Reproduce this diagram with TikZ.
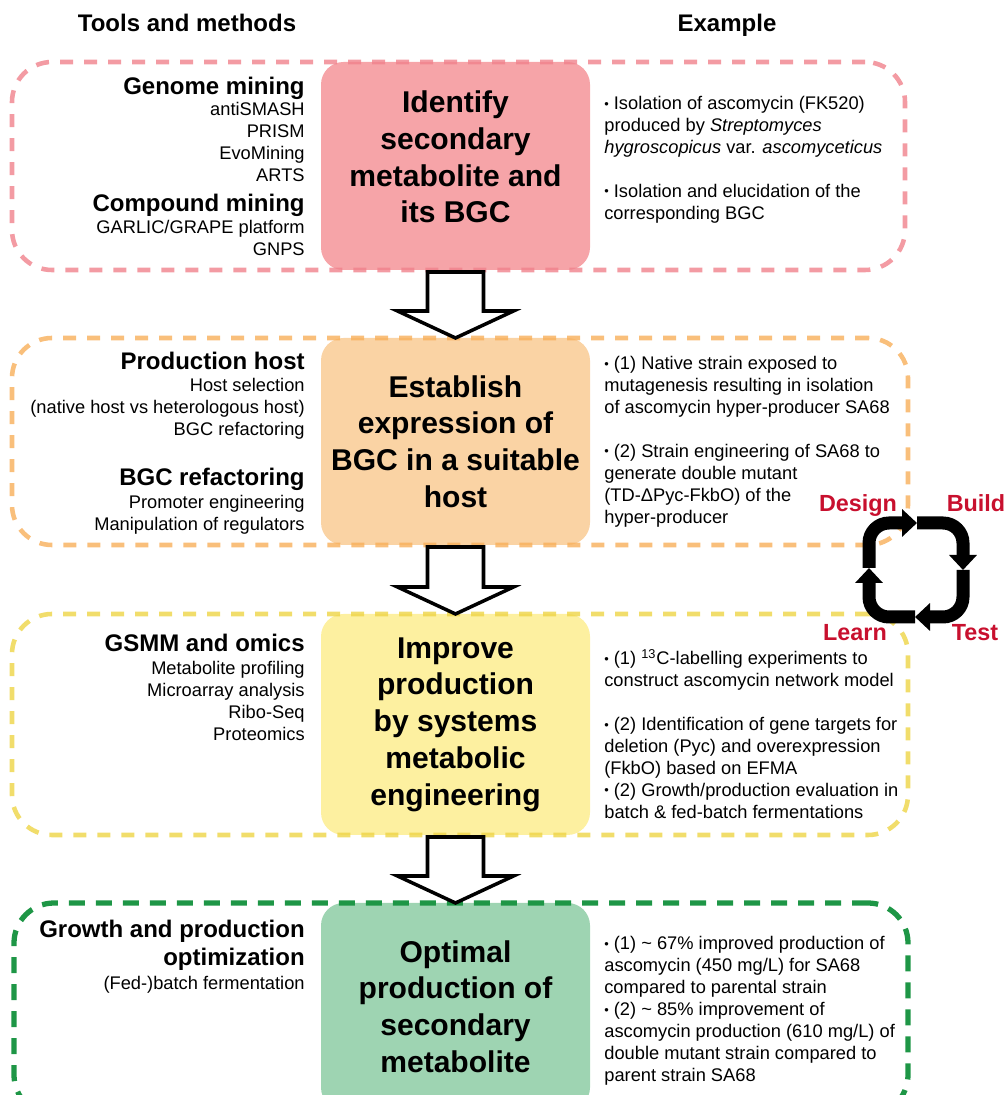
\documentclass[tikz,border=0pt]{standalone}
\usepackage{amsmath}
\usepackage{fontspec}
\setmainfont{Liberation Sans}
\usepackage{tikz}
\usetikzlibrary{calc,arrows.meta}

\definecolor{pinkfill}{RGB}{246,164,168}
\definecolor{pinkline}{RGB}{240,130,140}
\definecolor{orangefill}{RGB}{250,211,164}
\definecolor{orangeline}{RGB}{248,175,90}
\definecolor{yellowfill}{RGB}{253,240,160}
\definecolor{yellowline}{RGB}{238,212,70}
\definecolor{greenfill}{RGB}{158,212,178}
\definecolor{greenline}{RGB}{30,150,70}
\definecolor{dbtlred}{RGB}{200,16,46}

\newcommand{\bulletdot}{\raisebox{0.08em}{\scalebox{0.7}{\textbullet}}}

\begin{document}
\begin{tikzpicture}[
    headtext/.style={font=\fontsize{13.66}{15.9}\selectfont\bfseries, inner sep=0pt},
    itemtext/.style={font=\fontsize{10.4}{12.5}\selectfont, inner sep=0pt},
    stagebox/.style={rounded corners=0.45cm, minimum width=5.38cm, align=center, inner sep=0pt, outer sep=0pt, font=\fontsize{17.1}{20.9}\selectfont\bfseries},
    stageframe/.style={rounded corners=0.8cm, line width=2.6pt, dash pattern=on 0.26cm off 0.22cm, draw opacity=0.8, inner sep=0pt, outer sep=0pt},
    blockarrow/.style={draw=black, fill=white, line width=2pt, line join=miter},
    dbtlarrow/.style={line width=0.26cm, rounded corners=0.4cm, -{Triangle[width=0.54cm,length=0.3cm]}},
    dbtltext/.style={font=\fontsize{13.3}{16}\selectfont\bfseries, text=dbtlred, anchor=base, inner sep=0pt}
]

\useasboundingbox (0,0) rectangle (20.1,21.9);
\clip (0,0) rectangle (20.1,21.9);

%% column titles
\node[headtext, anchor=base] (tools) at (3.74,21.27) {Tools and methods};
\node[headtext, anchor=base] (example) at (14.54,21.27) {Example};

%% stage boxes
\node[stagebox, fill=pinkfill, minimum height=4.16cm] (identify) at (9.11,18.58) {\begin{tabular}{@{}c@{}}Identify\\secondary\\metabolite and\\its BGC\\[0.22cm]\end{tabular}};
\node[stagebox, fill=orangefill, minimum height=4.14cm] (establish) at (9.11,13.07) {Establish\\expression of\\BGC in a suitable\\host};
\node[stagebox, fill=yellowfill, minimum height=4.42cm] (improve) at (9.11,7.41) {Improve\\production\\by systems\\metabolic\\engineering};
\node[stagebox, fill=greenfill, minimum height=4.14cm] (optimal) at (9.11,1.77) {Optimal\\production of\\secondary\\metabolite};

%% dashed frames
\node[stageframe, draw=pinkline, minimum width=17.86cm, minimum height=4.16cm] (frame1) at (9.17,18.58) {};
\node[stageframe, draw=orangeline, minimum width=17.92cm, minimum height=4.14cm] (frame2) at (9.20,13.07) {};
\node[stageframe, draw=yellowline, minimum width=17.92cm, minimum height=4.42cm] (frame3) at (9.20,7.41) {};
\node[stageframe, draw=greenline, draw opacity=1, line width=3pt, dash pattern=on 0.32cm off 0.22cm, minimum width=17.88cm, minimum height=4.24cm] (frame4) at (9.22,1.72) {};

%% tools and methods
\node[headtext, anchor=base east] (genome) at (6.1,20.01) {Genome mining};
\node[itemtext, anchor=north east, align=right] (genomelist) at (6.1,19.86) {antiSMASH\\PRISM\\EvoMining\\ARTS};
\node[headtext, anchor=base east] (compound) at (6.1,17.67) {Compound mining};
\node[itemtext, anchor=north east, align=right] (compoundlist) at (6.1,17.50) {GARLIC/GRAPE platform\\GNPS};

\node[headtext, anchor=base east] (host) at (6.1,14.51) {Production host};
\node[itemtext, anchor=north east, align=right] (hostlist) at (6.1,14.34) {Host selection\\(native host vs heterologous host)\\BGC refactoring};
\node[headtext, anchor=base east] (refactor) at (6.1,12.19) {BGC refactoring};
\node[itemtext, anchor=north east, align=right] (refactorlist) at (6.1,12.0) {Promoter engineering\\Manipulation of regulators};

\node[headtext, anchor=base east] (omics) at (6.1,8.87) {GSMM and omics};
\node[itemtext, anchor=north east, align=right] (omicslist) at (6.1,8.68) {Metabolite profiling\\Microarray analysis\\Ribo-Seq\\Proteomics};

\node[headtext, anchor=north east, align=right] (growth) at (6.1,3.5) {Growth and production\\optimization};
\node[itemtext, anchor=north east, align=right] (growthlist) at (6.1,2.38) {(Fed-)batch fermentation};

%% examples
\node[itemtext, anchor=north west, align=left] (ex1) at (12.08,19.98) {\bulletdot\ Isolation of ascomycin (FK520)\\produced by \textit{Streptomyces}\\\textit{hygroscopicus} var. \textit{ascomyceticus}\\[12.5pt]\bulletdot\ Isolation and elucidation of the\\corresponding BGC};
\node[itemtext, anchor=north west, align=left] (ex2) at (12.08,14.78) {\bulletdot\ (1) Native strain exposed to\\mutagenesis resulting in isolation\\of ascomycin hyper-producer SA68\\[12.5pt]\bulletdot\ (2) Strain engineering of SA68 to\\generate double mutant\\(TD-ΔPyc-FkbO) of the\\hyper-producer};
\node[itemtext, anchor=north west, align=left] (ex3) at (12.08,8.88) {\bulletdot\ (1) \smash{\textsuperscript{13}}C-labelling experiments to\\construct ascomycin network model\\[12.5pt]\bulletdot\ (2) Identification of gene targets for\\deletion (Pyc) and overexpression\\(FkbO) based on EFMA\\\bulletdot\ (2) Growth/production evaluation in\\batch \& fed-batch fermentations};
\node[itemtext, anchor=north west, align=left] (ex4) at (12.08,3.18) {\bulletdot\ (1) \textasciitilde{} 67\% improved production of\\ascomycin (450 mg/L) for SA68\\compared to parental strain\\\bulletdot\ (2) \textasciitilde{} 85\% improvement of\\ascomycin production (610 mg/L) of\\double mutant strain compared to\\parent strain SA68};

%% block arrows
\draw[blockarrow] let \p1=(identify.south), \p2=(establish.north) in (\x1-0.56cm,\y1-0.04cm) -- (\x1+0.56cm,\y1-0.04cm) -- (\x1+0.56cm,\y2+0.54cm) -- (\x1+1.16cm,\y2+0.54cm) -- (\x2,\y2) -- (\x1-1.16cm,\y2+0.54cm) -- (\x1-0.56cm,\y2+0.54cm) -- cycle;   %% 1-2
\draw[blockarrow] let \p1=(establish.south), \p2=(improve.north) in (\x1-0.56cm,\y1-0.04cm) -- (\x1+0.56cm,\y1-0.04cm) -- (\x1+0.56cm,\y2+0.54cm) -- (\x1+1.16cm,\y2+0.54cm) -- (\x2,\y2) -- (\x1-1.16cm,\y2+0.54cm) -- (\x1-0.56cm,\y2+0.54cm) -- cycle;   %% 2-3
\draw[blockarrow] let \p1=(improve.south), \p2=(optimal.north) in (\x1-0.56cm,\y1-0.04cm) -- (\x1+0.56cm,\y1-0.04cm) -- (\x1+0.56cm,\y2+0.54cm) -- (\x1+1.16cm,\y2+0.54cm) -- (\x2,\y2) -- (\x1-1.16cm,\y2+0.54cm) -- (\x1-0.56cm,\y2+0.54cm) -- cycle;   %% 3-4

%% design-build-test-learn cycle
\coordinate (cycleleft) at (17.38,10.54);
\coordinate (cycletop) at (18.34,11.44);
\coordinate (cycleright) at (19.26,10.50);
\coordinate (cyclebottom) at (18.30,9.56);
\draw[dbtlarrow] (cycleleft) |- (cycletop);      %% learn -> design
\draw[dbtlarrow] (cycletop) -| (cycleright);     %% design -> build
\draw[dbtlarrow] (cycleright) |- (cyclebottom);  %% build -> test
\draw[dbtlarrow] (cyclebottom) -| (cycleleft);   %% test -> learn

\node[dbtltext] (design) at (17.16,11.67) {Design};
\node[dbtltext] (build) at (19.52,11.67) {Build};
\node[dbtltext] (learn) at (17.10,9.09) {Learn};
\node[dbtltext] (test) at (19.50,9.09) {Test};
\end{tikzpicture}
\end{document}
